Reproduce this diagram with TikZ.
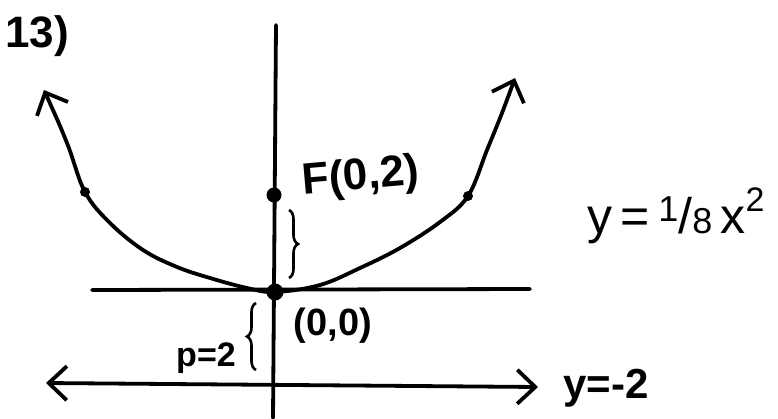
\documentclass[tikz,border=0pt]{standalone}
\usepackage{fontspec}
\setmainfont{Liberation Sans}
\usetikzlibrary{arrows.meta,decorations.pathreplacing}

\begin{document}
\begin{tikzpicture}[
  x=1pt, y=-1pt,
  ink/.style={line width=3.8pt, line cap=round},
  barbs/.style={{Straight Barb[length=18pt,width=34pt]}-{Straight Barb[length=18pt,width=34pt]}},
  dot/.style={circle, fill, inner sep=0pt, minimum size=#1},
  lbl/.style={font=\fontsize{#1}{#1}\selectfont, inner sep=0pt},
  curly/.style={decorate, decoration={brace, amplitude=9pt}, line width=2.6pt}
]
  \useasboundingbox (0,0) rectangle (778,418);

  % axes and directrix
  \coordinate (ytop) at (276,25);
  \coordinate (ybot) at (273,418);
  \coordinate (xl) at (92,290);
  \coordinate (xr) at (530,289);
  \coordinate (dl) at (46,383);
  \coordinate (dr) at (538,387);
  \draw[ink] (ytop) -- (ybot);
  \draw[ink] (xl) -- (xr);
  \draw[ink, barbs] (dl) -- (dr);

  % points
  \node[dot=10pt] (pl) at (85,192) {};
  \node[dot=10pt] (pr) at (468,196) {};
  \node[dot=15pt] (focus) at (274,195) {};
  \node[dot=17pt] (vertex) at (275,292) {};

  % parabola
  \draw[ink, barbs] plot[smooth, tension=0.6] coordinates {
    (44,90) (67,143) (pl.center) (110,223) (143,250) (177,267) (210,278)
    (247,288) (vertex.center) (320,285) (360,268) (400,248) (440,222)
    (pr.center) (487,150) (502,113) (515,78)};

  % braces
  \coordinate (b1) at (289,210);
  \coordinate (b2) at (289,278);
  \coordinate (b3) at (256,370);
  \coordinate (b4) at (256,303);
  \draw[curly] (b1) -- (b2);
  \draw[curly] (b3) -- (b4);

  % labels
  \node[lbl=44pt] (num) at (37,36) {\bfseries 13)};
  \node[lbl=44pt, rotate=5] (flbl) at (361,178) {\bfseries F(0,2)};
  \node[lbl=38pt] (vlbl) at (333,326) {\bfseries (0,0)};
  \node[lbl=34pt] (plbl) at (206,358) {\bfseries p=2};
  \node[lbl=42pt] (dlbl) at (606,388) {\bfseries y=-2};
  \node[lbl=50pt] (eq) at (676,216) {y\,=\,\raisebox{12pt}{\fontsize{36pt}{36pt}\selectfont 1}/{\fontsize{36pt}{36pt}\selectfont 8}\,x\raisebox{22pt}{\fontsize{34pt}{34pt}\selectfont 2}};
\end{tikzpicture}
\end{document}
